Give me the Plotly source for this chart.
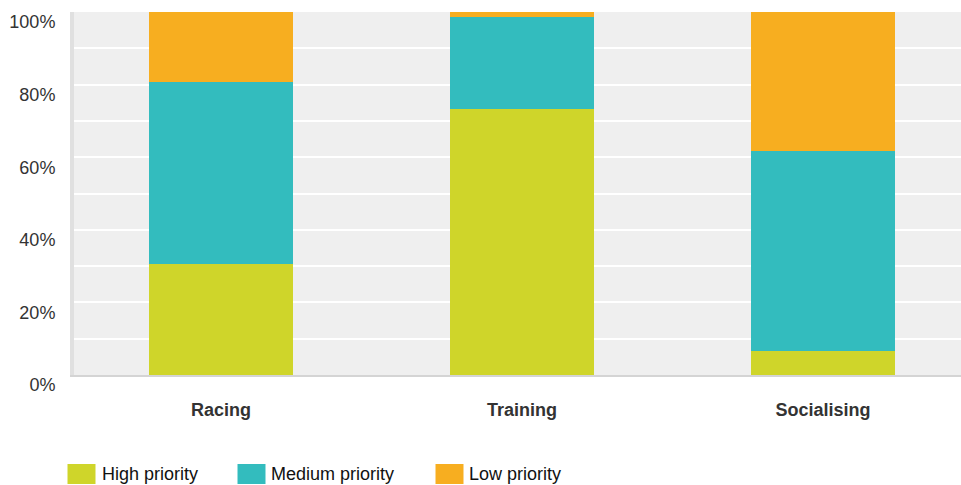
import plotly.graph_objects as go

# Share of respondents (%) rating each activity by priority
categories = ["Racing", "Training", "Socialising"]
high_priority = [30.7, 73.2, 6.6]
medium_priority = [50.0, 25.3, 55.0]
low_priority = [19.3, 1.5, 38.4]

series = [
    ("High priority", high_priority, "#CFD52A"),
    ("Medium priority", medium_priority, "#33BCBE"),
    ("Low priority", low_priority, "#F7AE20"),
]

FONT = "Liberation Sans, Arial, sans-serif"
W, H = 961, 485
M_L, M_R, M_T, M_B = 74, 0, 12, 110

fig = go.Figure()
for name, vals, color in series:
    fig.add_trace(go.Bar(
        x=categories, y=vals, name=name,
        marker=dict(color=color, line=dict(width=0)),
        width=0.48, showlegend=False,
    ))

# Custom legend: wide swatches below the chart
plot_w = W - M_L - M_R
plot_h = H - M_T - M_B


def px_x(px):
    return (px - M_L) / plot_w


def px_y(py):
    return (H - M_B - py) / plot_h


legend_items = [(67.5, 99.5), (237.5, 268.5), (435.5, 467.0)]
for (sx, tx), (name, _, color) in zip(legend_items, series):
    fig.add_shape(
        type="rect", xref="paper", yref="paper",
        x0=px_x(sx), x1=px_x(sx + 28), y0=px_y(484), y1=px_y(464),
        fillcolor=color, line=dict(width=0), layer="above",
    )
    fig.add_annotation(
        x=px_x(tx), y=px_y(473.5), xref="paper", yref="paper",
        text=name, showarrow=False, xanchor="left", yanchor="middle",
        font=dict(family=FONT, size=18, color="#111111"),
    )

fig.update_layout(
    width=W, height=H,
    margin=dict(l=M_L, r=M_R, t=M_T, b=M_B, pad=0),
    barmode="stack",
    paper_bgcolor="white",
    plot_bgcolor="#EFEFEF",
    font=dict(family=FONT, size=18, color="#333333"),
    xaxis=dict(
        type="category",
        range=[-0.488, 2.458],
        showgrid=False,
        ticks="",
        showline=True, linecolor="#D4D4D4", linewidth=2,
        tickfont=dict(family=FONT, size=18, color="#333333", weight="bold"),
        ticklabelstandoff=17,
        fixedrange=True,
    ),
    yaxis=dict(
        range=[0, 100],
        tickvals=[0, 20, 40, 60, 80, 100],
        ticktext=["0%", "20%", "40%", "60%", "80%", "100%"],
        showgrid=True, gridcolor="white", gridwidth=2,
        minor=dict(tickvals=[10, 30, 50, 70, 90], showgrid=True,
                   gridcolor="white", gridwidth=2, ticks=""),
        zeroline=False,
        ticks="",
        showline=True, linecolor="#E0E0E0", linewidth=4,
        tickfont=dict(family=FONT, size=18, color="#333333"),
        ticklabelstandoff=11,
        ticklabelshift=10,
        fixedrange=True,
    ),
)

fig.write_html("out.html")
